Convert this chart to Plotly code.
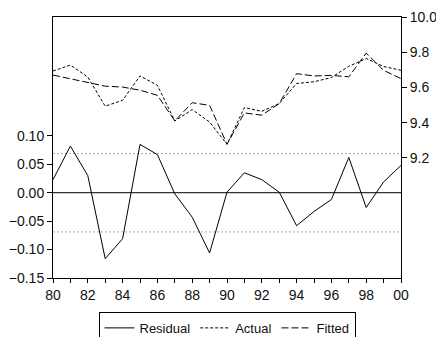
import plotly.graph_objects as go

years = list(range(1980, 2001))
residual = [0.023, 0.082, 0.030, -0.116, -0.081, 0.085, 0.067, -0.002, -0.043, -0.106,
            0.001, 0.035, 0.023, 0.001, -0.058, -0.033, -0.012, 0.062, -0.026, 0.019, 0.048]
actual = [9.693, 9.727, 9.659, 9.493, 9.527, 9.665, 9.612, 9.409, 9.474, 9.403,
          9.277, 9.485, 9.464, 9.508, 9.622, 9.632, 9.656, 9.720, 9.764, 9.719, 9.697]
fitted = [9.670, 9.648, 9.625, 9.607, 9.602, 9.584, 9.555, 9.410, 9.513, 9.498,
          9.277, 9.455, 9.442, 9.508, 9.678, 9.665, 9.668, 9.660, 9.795, 9.697, 9.650]
se_band = 0.069

x_tickvals = years
x_ticktext = [f"{y % 100:02d}" if y % 2 == 0 else "" for y in years]
left_ticks = [-0.15, -0.10, -0.05, 0.00, 0.05, 0.10]
right_ticks = [9.2, 9.4, 9.6, 9.8, 10.0]

font = dict(family="Liberation Sans, Arial, sans-serif", size=14, color="#111")

fig = go.Figure()
# +/- standard error lines
for v in (se_band, -se_band):
    fig.add_trace(go.Scatter(x=[years[0], years[-1]], y=[v, v], mode="lines",
                             line=dict(color="#aaaaaa", width=1, dash="2px,2px"),
                             showlegend=False, hoverinfo="skip"))
fig.add_trace(go.Scatter(x=[years[0], years[-1]], y=[0, 0], mode="lines",
                         line=dict(color="black", width=1), showlegend=False, hoverinfo="skip"))
fig.add_trace(go.Scatter(x=years, y=residual, mode="lines", name="Residual",
                         line=dict(color="black", width=1)))
fig.add_trace(go.Scatter(x=years, y=actual, mode="lines", name="Actual", yaxis="y2",
                         line=dict(color="black", width=1, dash="3px,2px")))
fig.add_trace(go.Scatter(x=years, y=fitted, mode="lines", name="Fitted", yaxis="y2",
                         line=dict(color="black", width=1, dash="7px,3px")))

fig.update_layout(
    width=436, height=337,
    margin=dict(l=53, r=35, t=17, b=59, autoexpand=False),
    paper_bgcolor="white", plot_bgcolor="white",
    font=font,
    xaxis=dict(range=[1980, 2000], tickvals=x_tickvals, ticktext=x_ticktext,
               ticks="outside", ticklen=4, tickcolor="black", showline=True,
               linecolor="black", linewidth=1, mirror=True, showgrid=False,
               zeroline=False, tickfont=font, automargin=False),
    yaxis=dict(range=[-0.15, 0.309], tickvals=left_ticks, tickformat=".2f",
               ticks="outside", ticklen=5, tickcolor="black", showline=True,
               linecolor="black", linewidth=1, showgrid=False, zeroline=False,
               tickfont=font, automargin=False),
    yaxis2=dict(range=[8.517, 10.0], tickvals=right_ticks, tickformat=".1f",
                overlaying="y", side="right", ticks="outside", ticklen=5,
                tickcolor="black", showline=True, linecolor="black", linewidth=1,
                showgrid=False, zeroline=False, tickfont=font, automargin=False),
    legend=dict(orientation="h", x=0.5, xanchor="center", y=-0.13, yanchor="top",
                bordercolor="black", borderwidth=1, font=dict(family=font["family"], size=13),
                tracegroupgap=0, itemwidth=30),
    showlegend=True,
)

fig.write_html("out.html", config={"displayModeBar": False},
               post_script="document.body.style.margin='0';document.body.style.overflow='hidden';")
